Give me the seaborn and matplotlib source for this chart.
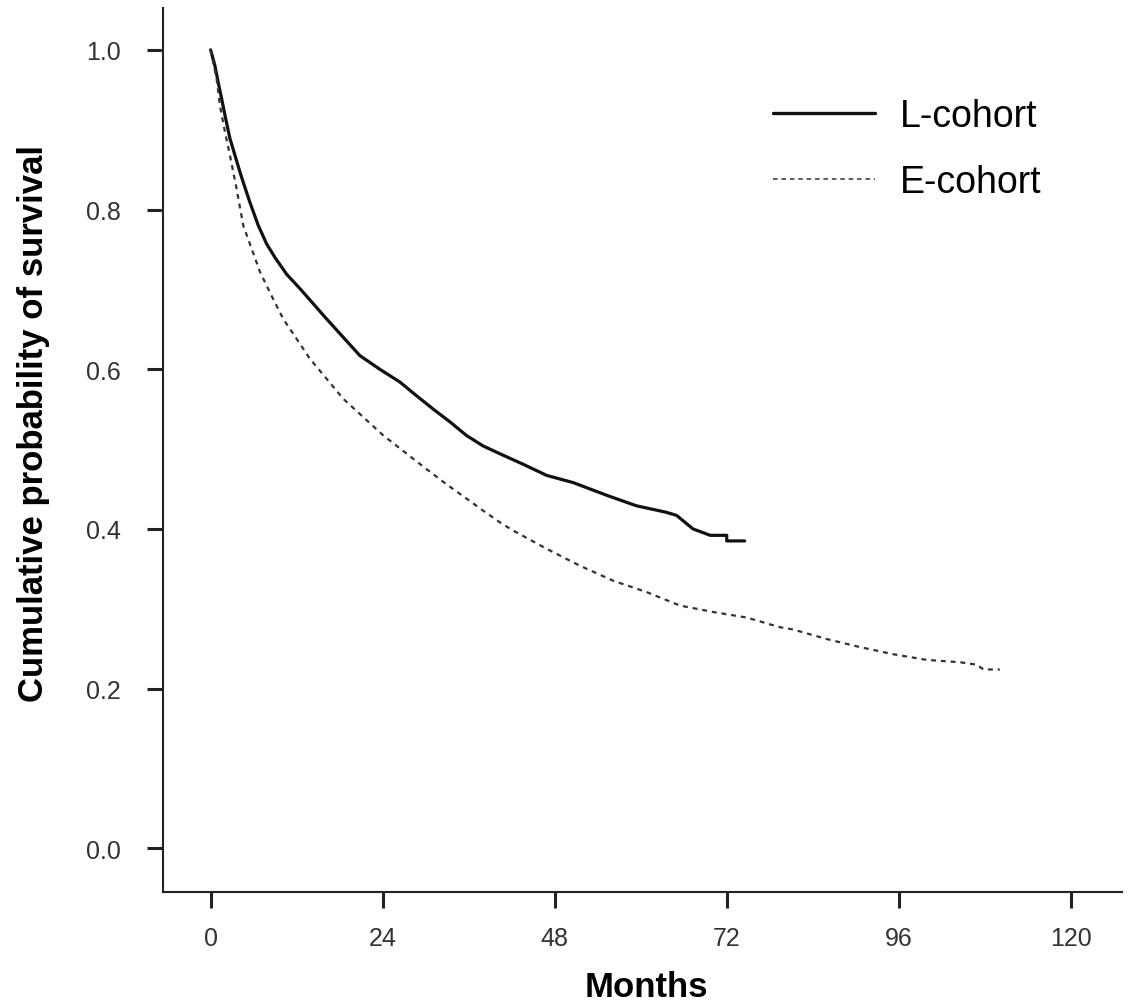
import matplotlib
matplotlib.use("Agg")
import matplotlib.pyplot as plt
import seaborn as sns
import pandas as pd

# ---- data ----
l_months = [0, 0.6, 1.06, 1.53, 2.0, 2.69, 3.39, 4.09, 4.55, 5.48, 6.65, 7.81,
            8.97, 10.6, 12.46, 14.32, 16.18, 18.5, 20.83, 23.6, 26.4, 28.7,
            31.06, 33.4, 35.7, 38.0, 40.4, 43.6, 46.9, 50.6, 55.3, 59.4, 63.5,
            65.0, 67.3, 69.7, 72.0, 72.0, 74.5]
l_surv = [1.0, 0.980, 0.959, 0.939, 0.918, 0.889, 0.868, 0.847, 0.834, 0.809,
          0.780, 0.757, 0.740, 0.719, 0.701, 0.682, 0.663, 0.640, 0.617, 0.600,
          0.584, 0.567, 0.550, 0.534, 0.517, 0.504, 0.494, 0.481, 0.467, 0.458,
          0.442, 0.429, 0.421, 0.417, 0.400, 0.392, 0.392, 0.385, 0.385]

e_months = [0, 0.83, 1.3, 2.0, 2.69, 3.62, 4.55, 5.72, 6.88, 8.5, 10.13, 12.0,
            13.86, 16.18, 18.5, 21.3, 24.1, 27.1, 30.1, 32.9, 35.7, 38.0, 40.4,
            42.2, 46.9, 51.5, 56.2, 60.8, 65.5, 70.1, 74.8, 79.4, 81.3, 86.0,
            90.6, 95.3, 99.9, 104.6, 106.9, 107.8, 110.1]
e_surv = [1.0, 0.964, 0.930, 0.897, 0.868, 0.826, 0.780, 0.751, 0.722, 0.692,
          0.663, 0.638, 0.613, 0.588, 0.563, 0.540, 0.517, 0.496, 0.475, 0.456,
          0.438, 0.423, 0.408, 0.398, 0.375, 0.354, 0.335, 0.321, 0.304, 0.296,
          0.289, 0.277, 0.274, 0.262, 0.252, 0.243, 0.236, 0.233, 0.230, 0.224,
          0.224]

x_ticks = [0, 24, 48, 72, 96, 120]
y_ticks = [0.0, 0.2, 0.4, 0.6, 0.8, 1.0]
y_tick_labels = ["0.0", "0.2", "0.4", "0.6", "0.8", "1.0"]

df_l = pd.DataFrame({"Months": l_months, "Survival": l_surv})
df_e = pd.DataFrame({"Months": e_months, "Survival": e_surv})

sns.set_theme(style="ticks")
plt.rcParams["font.family"] = ["Liberation Sans", "DejaVu Sans"]

fig = plt.figure(figsize=(11.28, 10.04), dpi=100)
ax = fig.add_axes([0.1448, 0.1103, 0.9944 - 0.1448, 0.9907 - 0.1103])

sns.lineplot(data=df_l, x="Months", y="Survival", ax=ax, sort=False,
             estimator=None, color="#111111", linewidth=2.3, label="L-cohort")
sns.lineplot(data=df_e, x="Months", y="Survival", ax=ax, sort=False,
             estimator=None, color="#333333", linewidth=1.6,
             linestyle=(0, (2.2, 2.2)), label="E-cohort")

ax.set_xlim(-6.6, 127.1)
ax.set_ylim(-0.055, 1.052)
ax.set_xticks(x_ticks)
ax.set_xticklabels([str(v) for v in x_ticks])
ax.set_yticks(y_ticks)
ax.set_yticklabels(y_tick_labels)

for s in ["top", "right"]:
    ax.spines[s].set_visible(False)
for s in ["left", "bottom"]:
    ax.spines[s].set_linewidth(1.5)
    ax.spines[s].set_color("#222222")

ax.tick_params(axis="both", direction="out", length=11.5, width=2.2,
               color="#222222", labelsize=18, labelcolor="#333333")
ax.tick_params(axis="y", pad=19)
ax.tick_params(axis="x", pad=13)

ax.set_xlabel("Months", fontsize=25, fontweight="bold", color="black")
ax.set_ylabel("Cumulative probability of survival", fontsize=25,
              fontweight="bold", color="black")
ax.xaxis.set_label_coords(0.5036, -0.088)
ax.yaxis.set_label_coords(-0.118, 0.531)

leg = ax.legend(loc="upper left", bbox_to_anchor=(0.636, 0.898), frameon=False,
                fontsize=27, handlelength=2.72, handletextpad=0.67,
                labelspacing=0.8, borderpad=0, borderaxespad=0)
for txt in leg.get_texts():
    txt.set_color("black")
hl = leg.get_lines()
hl[0].set_linewidth(2.4)
hl[1].set_linewidth(1.1)
hl[1].set_linestyle((0, (3, 2.5)))

fig.savefig("out.png", dpi=100)
